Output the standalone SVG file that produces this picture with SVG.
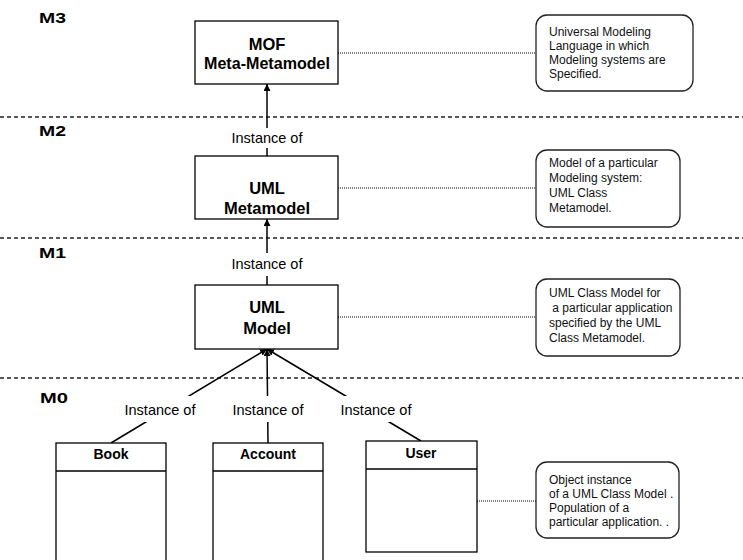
<svg xmlns="http://www.w3.org/2000/svg" width="743" height="560" viewBox="0 0 743 560">
  <style>
    .bg { fill: #ffffff; }
    .layer { stroke: #222; stroke-width: 1.3; stroke-dasharray: 4 3; fill: none; }
    .lvl { font-family: "Liberation Sans", Arial, sans-serif; font-weight: bold; font-size: 15px; fill: #000; }
    .box { fill: #fff; stroke: #000; stroke-width: 1.3; }
    .title { font-family: "Liberation Sans", Arial, sans-serif; font-weight: bold; font-size: 16.5px; fill: #000; text-anchor: middle; }
    .cls { font-family: "Liberation Sans", Arial, sans-serif; font-weight: bold; font-size: 14px; fill: #000; text-anchor: middle; }
    .note { fill: #fff; stroke: #222; stroke-width: 1.3; }
    .ntext { font-family: "Liberation Sans", Arial, sans-serif; font-size: 12px; fill: #111; }
    .link { stroke: #000; stroke-width: 1.5; fill: none; }
    .rule { stroke: #000; stroke-width: 1.3; }
    .dots { stroke: #000; stroke-width: 1; stroke-dasharray: 1 1; fill: none; }
    .lbl { font-family: "Liberation Sans", Arial, sans-serif; font-size: 14.5px; fill: #000; text-anchor: middle; }
    .mask { fill: #fff; }
  </style>
  <defs>
    <marker id="arrow" viewBox="0 0 10 10" refX="10" refY="5" markerWidth="7" markerHeight="7" markerUnits="userSpaceOnUse" orient="auto">
      <path d="M0,0 L10,5 L0,10 z" fill="#000"/>
    </marker>
  </defs>

  <rect class="bg" x="0" y="0" width="743" height="560"/>

  <!-- layer separators and level names -->
  <g id="layers">
    <line class="layer" x1="0" y1="117" x2="743" y2="117"/>
    <line class="layer" x1="0" y1="238" x2="743" y2="238"/>
    <line class="layer" x1="0" y1="378" x2="743" y2="378"/>
    <text class="lvl" x="39" y="23" textLength="27" lengthAdjust="spacingAndGlyphs">M3</text>
    <text class="lvl" x="39" y="136" textLength="27" lengthAdjust="spacingAndGlyphs">M2</text>
    <text class="lvl" x="39" y="258" textLength="27" lengthAdjust="spacingAndGlyphs">M1</text>
    <text class="lvl" x="40" y="403" textLength="28" lengthAdjust="spacingAndGlyphs">M0</text>
  </g>

  <!-- connectors -->
  <g id="connectors">
    <line class="link" x1="267" y1="156" x2="267" y2="84" marker-end="url(#arrow)"/>
    <rect class="mask" x="228" y="128" width="78" height="20"/>
    <text class="lbl" x="267" y="143">Instance of</text>

    <line class="link" x1="267" y1="285" x2="267" y2="219" marker-end="url(#arrow)"/>
    <rect class="mask" x="228" y="253" width="78" height="23"/>
    <text class="lbl" x="267" y="269">Instance of</text>

    <line class="link" x1="111" y1="443" x2="267" y2="349" marker-end="url(#arrow)"/>
    <line class="link" x1="268" y1="443" x2="267" y2="349" marker-end="url(#arrow)"/>
    <line class="link" x1="421" y1="441" x2="267" y2="349" marker-end="url(#arrow)"/>
    <rect class="mask" x="120" y="396" width="80" height="26"/>
    <rect class="mask" x="229" y="396" width="78" height="26"/>
    <rect class="mask" x="336" y="396" width="80" height="26"/>
    <text class="lbl" x="160" y="415">Instance of</text>
    <text class="lbl" x="268" y="415">Instance of</text>
    <text class="lbl" x="376" y="415">Instance of</text>

    <line class="dots" x1="338" y1="53" x2="536" y2="53"/>
    <line class="dots" x1="338" y1="188" x2="536" y2="188"/>
    <line class="dots" x1="338" y1="317" x2="536" y2="317"/>
    <line class="dots" x1="477" y1="501" x2="536" y2="501"/>
  </g>

  <!-- model nodes -->
  <g id="mof">
    <rect class="box" x="195" y="21" width="143" height="63"/>
    <text class="title" x="267" y="50">MOF</text>
    <text class="title" x="267" y="69" textLength="126" lengthAdjust="spacingAndGlyphs">Meta-Metamodel</text>
  </g>
  <g id="uml-metamodel">
    <rect class="box" x="195" y="156" width="143" height="63"/>
    <text class="title" x="267" y="194">UML</text>
    <text class="title" x="267" y="214">Metamodel</text>
  </g>
  <g id="uml-model">
    <rect class="box" x="195" y="285" width="143" height="64"/>
    <text class="title" x="267" y="313">UML</text>
    <text class="title" x="267" y="334">Model</text>
  </g>

  <!-- classes -->
  <g id="book">
    <rect class="box" x="56" y="443" width="110" height="125"/>
    <line class="rule" x1="56" y1="471" x2="166" y2="471"/>
    <text class="cls" x="111" y="459">Book</text>
  </g>
  <g id="account">
    <rect class="box" x="213" y="443" width="110" height="125"/>
    <line class="rule" x1="213" y1="471" x2="323" y2="471"/>
    <text class="cls" x="268" y="459">Account</text>
  </g>
  <g id="user">
    <rect class="box" x="366" y="441" width="111" height="111"/>
    <line class="rule" x1="366" y1="469" x2="477" y2="469"/>
    <text class="cls" x="421" y="458">User</text>
  </g>

  <!-- notes -->
  <g id="note-m3">
    <rect class="note" x="536" y="15" width="157" height="76" rx="11"/>
    <text class="ntext" x="549" y="36">Universal Modeling</text>
    <text class="ntext" x="549" y="50">Language in which</text>
    <text class="ntext" x="549" y="64">Modeling systems are</text>
    <text class="ntext" x="549" y="78">Specified.</text>
  </g>
  <g id="note-m2">
    <rect class="note" x="536" y="150" width="144" height="77" rx="11"/>
    <text class="ntext" x="549" y="167">Model of a particular</text>
    <text class="ntext" x="549" y="182">Modeling system:</text>
    <text class="ntext" x="549" y="197">UML Class</text>
    <text class="ntext" x="549" y="212">Metamodel.</text>
  </g>
  <g id="note-m1">
    <rect class="note" x="536" y="279" width="144" height="77" rx="11"/>
    <text class="ntext" x="549" y="297">UML Class Model for</text>
    <text class="ntext" x="549" y="312" xml:space="preserve"> a particular application</text>
    <text class="ntext" x="549" y="327">specified by the UML</text>
    <text class="ntext" x="549" y="342">Class Metamodel.</text>
  </g>
  <g id="note-m0">
    <rect class="note" x="536" y="462" width="143" height="76" rx="11"/>
    <text class="ntext" x="549" y="484">Object instance</text>
    <text class="ntext" x="549" y="498">of a UML Class Model .</text>
    <text class="ntext" x="549" y="512">Population of a</text>
    <text class="ntext" x="549" y="526">particular application. .</text>
  </g>
</svg>
